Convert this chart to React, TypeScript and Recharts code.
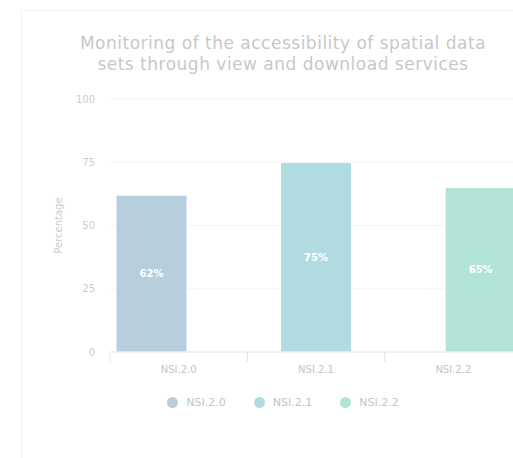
import React from 'react';
import { BarChart, Bar, XAxis, YAxis, CartesianGrid, Legend, LabelList } from 'recharts';

const categories = ['NSI.2.0', 'NSI.2.1', 'NSI.2.2'];
const seriesNames = ['NSI.2.0', 'NSI.2.1', 'NSI.2.2'];
const seriesValues = [62, 75, 65];
const yTicks = [0, 25, 50, 75, 100];
const COLORS = ['#b7cfdd', '#b1dbe1', '#b1e4d7'];

// one series per category, the other slots stay empty (grouped layout)
const data = categories.map((cat, i) => {
  const row: Record<string, string | number | null> = { name: cat };
  seriesNames.forEach((s, j) => {
    row[s] = i === j ? seriesValues[j] : null;
  });
  return row;
});

const axisFont = '"DejaVu Sans", sans-serif';

const CategoryTick = (props: any) => {
  const { x, y, payload } = props;
  const off = payload.offset || 0;
  return (
    <g>
      <line x1={x - off} y1={y - 8} x2={x - off} y2={y + 2} stroke="#e6e6e6" />
      <line x1={x + off} y1={y - 8} x2={x + off} y2={y + 2} stroke="#e6e6e6" />
      <text x={x} y={y + 13} textAnchor="middle" fill="#c4c4c4" fontSize={10} fontFamily={axisFont}>
        {payload.value}
      </text>
    </g>
  );
};

const LegendContent = () => (
  <div style={{ display: 'flex', justifyContent: 'center', alignItems: 'center', height: 20 }}>
    {seriesNames.map((s, i) => (
      <div key={s} style={{ display: 'flex', alignItems: 'center', margin: '0 14px' }}>
        <svg width={11} height={11} style={{ marginRight: 8 }}>
          <circle cx={5.5} cy={5.5} r={5.5} fill={COLORS[i]} />
        </svg>
        <span style={{ fontSize: 11, color: '#c4c4c4', fontFamily: axisFont }}>{s}</span>
      </div>
    ))}
  </div>
);

export default function App() {
  return (
    <div style={{ position: 'fixed', left: 0, top: 0, width: 513, height: 458, overflow: 'hidden', background: '#fff' }}>
      <div
        style={{
          position: 'absolute',
          left: 21,
          top: 10,
          width: 522,
          height: 470,
          border: '1px solid #f1f1f1',
          background: '#fff',
        }}
      >
        <div
          style={{
            position: 'absolute',
            top: 22,
            left: 0,
            width: 522,
            textAlign: 'center',
            fontFamily: axisFont,
            fontSize: 17,
            letterSpacing: 0.5,
            lineHeight: '21px',
            color: '#c8c8c8',
          }}
        >
          Monitoring of the accessibility of spatial data
          <br />
          sets through view and download services
        </div>
        <BarChart
          width={522}
          height={440}
          data={data}
          margin={{ top: 88, right: 22, bottom: 39, left: 0 }}
          barSize={71}
          barGap={-43.75}
        >
          <CartesianGrid vertical={false} stroke="#f3f3f3" />
          <XAxis
            dataKey="name"
            height={40}
            tickLine={false}
            axisLine={{ stroke: '#e6e6e6' }}
            tick={<CategoryTick />}
            interval={0}
          />
          <YAxis
            width={88}
            domain={[0, 100]}
            ticks={yTicks}
            tickLine={false}
            axisLine={false}
            tickSize={0}
            tickMargin={15}
            tick={{ fill: '#cccccc', fontSize: 10, fontFamily: axisFont }}
            label={{
              value: 'Percentage',
              angle: -90,
              position: 'center',
              dx: -8,
              style: { fill: '#cccccc', fontSize: 10, fontFamily: axisFont },
            }}
          />
          <Legend
            verticalAlign="bottom"
            content={<LegendContent />}
            wrapperStyle={{ height: 20, left: 0, width: 522 }}
          />
          {seriesNames.map((s, i) => (
            <Bar key={s} dataKey={s} fill={COLORS[i]} stroke="#fff" strokeWidth={1} isAnimationActive={false}>
              <LabelList
                dataKey={s}
                position="center"
                formatter={(v: any) => (v == null ? '' : `${v}%`)}
                style={{ fill: '#fff', fontSize: 10, fontWeight: 'bold', fontFamily: axisFont }}
              />
            </Bar>
          ))}
        </BarChart>
      </div>
    </div>
  );
}
